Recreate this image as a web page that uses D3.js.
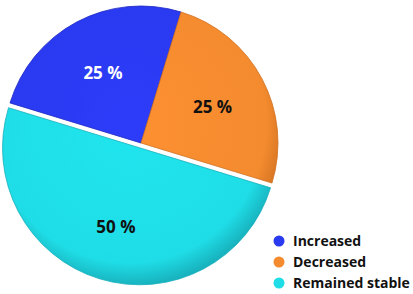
<!DOCTYPE html>
<html>
<head>
<meta charset="utf-8">
<script src="https://cdn.jsdelivr.net/npm/d3@7"></script>
<style>
  body { margin: 0; background: #fff; }
  text { font-family: "Open Sans", "Noto Sans", sans-serif; font-weight: bold; }
</style>
</head>
<body>
<div id="chart"></div>
<script>
// Data arrays
let categories = ["Increased", "Decreased", "Remained stable"];
let values = [25, 25, 50];
let labels = ["25 %", "25 %", "50 %"];
let colors = ["#2a3af0", "#f48b2f", "#1fdde6"];
let edgeColors = ["#1c26c0", "#d0701f", "#17b0bc"];
let labelColors = ["#ffffff", "#111111", "#111111"];

let width = 413, height = 294;
let radius = 137;
let cx = 141, cy = 143;

let svg = d3.select("#chart")
  .append("svg")
  .attr("width", width)
  .attr("height", height);

// radial gradients give the slices a soft shaded rim
let defs = svg.append("defs");
categories.forEach(function(c, i) {
  let g = defs.append("radialGradient")
    .attr("id", "grad" + i)
    .attr("gradientUnits", "userSpaceOnUse")
    .attr("cx", -10).attr("cy", -20)
    .attr("r", radius + 22);
  g.append("stop").attr("offset", "0%").attr("stop-color", d3.color(colors[i]).brighter(0.1));
  g.append("stop").attr("offset", "85%").attr("stop-color", colors[i]);
  g.append("stop").attr("offset", "100%").attr("stop-color", edgeColors[i]);
});

let pie = d3.pie()
  .sort(null)
  .startAngle(-73 * Math.PI / 180)
  .endAngle(287 * Math.PI / 180)
  .value(function(d) { return d; });

let arcs = pie(values);

let arc = d3.arc()
  .innerRadius(0)
  .outerRadius(radius);

let labelArc = d3.arc()
  .innerRadius(81)
  .outerRadius(81);

let g = svg.append("g")
  .attr("transform", "translate(" + cx + "," + cy + ")");

// the big slice is pulled out a little along its middle angle
function offset(d) {
  if (d.data < 50) return [0, 0];
  let mid = (d.startAngle + d.endAngle) / 2;
  return [Math.sin(mid) * 5, -Math.cos(mid) * 5];
}

let slices = g.selectAll("g.slice")
  .data(arcs)
  .enter()
  .append("g")
  .attr("class", "slice")
  .attr("transform", function(d) {
    let o = offset(d);
    return "translate(" + o[0] + "," + o[1] + ")";
  });

slices.append("path")
  .attr("d", arc)
  .attr("fill", function(d, i) { return "url(#grad" + i + ")"; })
  .attr("stroke", function(d, i) { return edgeColors[i]; })
  .attr("stroke-width", 0.8);

slices.append("text")
  .attr("transform", function(d) {
    let p = labelArc.centroid(d);
    return "translate(" + p[0] + "," + p[1] + ")";
  })
  .attr("text-anchor", "middle")
  .attr("dy", "0.45em")
  .attr("font-size", 17)
  .attr("fill", function(d, i) { return labelColors[i]; })
  .text(function(d, i) { return labels[i]; });

// Legend
let legend = svg.append("g")
  .attr("transform", "translate(279,241)");

let rows = legend.selectAll("g")
  .data(categories)
  .enter()
  .append("g")
  .attr("transform", function(d, i) { return "translate(0," + i * 21 + ")"; });

rows.append("circle")
  .attr("r", 5.5)
  .attr("fill", function(d, i) { return colors[i]; });

rows.append("text")
  .attr("x", 14)
  .attr("dy", "0.35em")
  .attr("font-size", 14)
  .attr("fill", "#111")
  .text(function(d) { return d; });
</script>
</body>
</html>
